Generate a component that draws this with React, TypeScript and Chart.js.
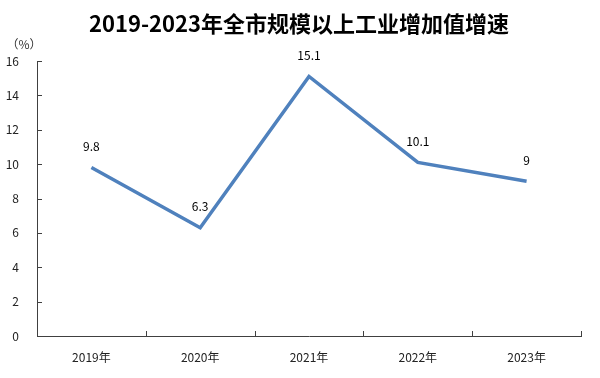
import React, { useEffect, useRef } from "react";
import { Chart, registerables } from "chart.js";

Chart.register(...registerables);

const categories = ["2019年", "2020年", "2021年", "2022年", "2023年"];
const growth = [9.8, 6.3, 15.1, 10.1, 9];
const yTicks = [0, 2, 4, 6, 8, 10, 12, 14, 16];
const titleText = "2019-2023年全市规模以上工业增加值增速";
const unitText = "（%）";

const FONT = "'Noto Sans CJK SC', 'Noto Sans', sans-serif";

const decorPlugin = {
  id: "decor",
  afterDatasetsDraw(chart: any) {
    const { ctx, chartArea, scales } = chart;
    const x = scales.x;
    const y = scales.y;
    ctx.save();
    ctx.strokeStyle = "#404040";
    ctx.lineWidth = 1;
    ctx.beginPath();
    const n = categories.length;
    const step = x.getPixelForValue(1) - x.getPixelForValue(0);
    for (let i = 0; i < n; i++) {
      const px = Math.round(x.getPixelForValue(i) + step / 2) + 0.5;
      ctx.moveTo(px, chartArea.bottom);
      ctx.lineTo(px, chartArea.bottom - 5);
    }
    yTicks.forEach((v) => {
      const py = Math.round(y.getPixelForValue(v)) + 0.5;
      ctx.moveTo(chartArea.left, py);
      ctx.lineTo(chartArea.left + 5, py);
    });
    ctx.stroke();
    ctx.fillStyle = "#000";
    ctx.font = `12px ${FONT}`;
    ctx.textAlign = "center";
    ctx.textBaseline = "middle";
    const meta = chart.getDatasetMeta(0);
    meta.data.forEach((pt: any, i: number) => {
      ctx.fillText(String(growth[i]), pt.x, pt.y - 21);
    });
    ctx.font = `bold 22px ${FONT}`;
    ctx.fillText(titleText, 299, 24);
    ctx.font = `12px ${FONT}`;
    ctx.fillStyle = "#333";
    ctx.fillText(unitText, 24, 44);
    ctx.restore();
  },
};

export default function App() {
  const ref = useRef<HTMLCanvasElement>(null);
  useEffect(() => {
    const chart = new Chart(ref.current!, {
      type: "line",
      data: {
        labels: categories,
        datasets: [
          {
            data: growth,
            borderColor: "#4f81bd",
            borderWidth: 3.5,
            pointRadius: 0,
            tension: 0,
            fill: false,
          },
        ],
      },
      options: {
        animation: false,
        responsive: false,
        layout: { padding: { top: 61, left: 0, right: 19, bottom: 0 } },
        plugins: { legend: { display: false }, tooltip: { enabled: false } },
        scales: {
          x: {
            offset: true,
            grid: { display: false, offset: true },
            border: { display: true, color: "#404040", width: 1 },
            ticks: { color: "#222", font: { family: FONT, size: 12 }, padding: 6 },
            afterFit(s: any) {
              s.height = 42;
            },
          },
          y: {
            min: 0,
            max: 16,
            grid: { display: false },
            border: { display: true, color: "#404040", width: 1 },
            ticks: { stepSize: 2, color: "#222", font: { family: FONT, size: 12 }, padding: 10 },
            afterFit(s: any) {
              s.width = 37;
            },
          },
        },
      },
      plugins: [decorPlugin],
    });
    return () => chart.destroy();
  }, []);
  return (
    <div style={{ position: "absolute", left: 0, top: 0, width: 600, height: 378, background: "#fff" }}>
      <canvas ref={ref} width={600} height={378} />
    </div>
  );
}
